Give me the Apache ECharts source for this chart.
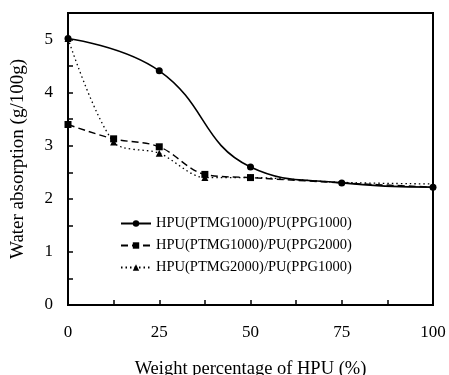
<!DOCTYPE html>
<html><head><meta charset="utf-8">
<script src="https://cdn.jsdelivr.net/npm/echarts@6/dist/echarts.min.js"></script>
<style>html,body{margin:0;padding:0;background:#fff}#c{width:449px;height:375px}</style>
</head><body><div id="c"></div>
<script>
const xValues = [0, 12.5, 25, 37.5, 50, 75, 100];
const seriesNames = ['HPU(PTMG1000)/PU(PPG1000)', 'HPU(PTMG1000)/PU(PPG2000)', 'HPU(PTMG2000)/PU(PPG1000)'];
const s1 = [5.02, null, 4.41, null, 2.60, 2.30, 2.22];
const s2 = [3.40, 3.13, 2.98, 2.46, 2.40, 2.30, 2.22];
const s3 = [5.02, 3.07, 2.86, 2.40, 2.40, 2.31, 2.28];
const xTickLabels = [0, 25, 50, 75, 100];
const yTickLabels = [0, 1, 2, 3, 4, 5];

const font = 'Liberation Serif';
function pts(arr, hideAfter) {
  const out = [];
  arr.forEach((v, i) => {
    if (v === null) return;
    const item = { value: [xValues[i], v] };
    if (hideAfter !== undefined && xValues[i] > hideAfter) item.symbol = 'none';
    out.push(item);
  });
  return out;
}
const chart = echarts.init(document.getElementById('c'));
chart.setOption({
  animation: false,
  backgroundColor: '#fff',
  grid: { left: 68, right: 16, top: 13, bottom: 70, outerBoundsMode: 'none', containLabel: false,
    show: true, borderColor: '#000', borderWidth: 2, backgroundColor: 'transparent' },
  legend: {
    orient: 'vertical', left: 120, top: 216, padding: 0, itemWidth: 30, itemHeight: 8, itemGap: 7,
    textStyle: { fontFamily: font, fontSize: 14.5, color: '#000' },
    data: seriesNames
  },
  xAxis: {
    type: 'value', min: 0, max: 100, interval: 12.5,
    name: 'Weight percentage of HPU (%)', nameLocation: 'middle', nameGap: 55,
    nameTextStyle: { fontFamily: font, fontSize: 18.5, color: '#000' },
    axisLine: { lineStyle: { color: '#000', width: 2 } },
    axisTick: { inside: true, length: 5, lineStyle: { color: '#000', width: 1.5 } },
    splitLine: { show: false },
    axisLabel: { margin: 19, fontFamily: font, fontSize: 17, color: '#000',
      formatter: v => xTickLabels.indexOf(v) >= 0 ? String(v) : '' }
  },
  yAxis: {
    type: 'value', min: 0, max: 5.5, interval: 0.5,
    name: 'Water absorption (g/100g)', nameLocation: 'middle', nameGap: 40,
    nameTextStyle: { fontFamily: font, fontSize: 19, color: '#000' },
    axisLine: { lineStyle: { color: '#000', width: 2 } },
    axisTick: { inside: true, length: 5, lineStyle: { color: '#000', width: 1.5 } },
    splitLine: { show: false },
    axisLabel: { margin: 15, fontFamily: font, fontSize: 17, color: '#000',
      formatter: v => yTickLabels.indexOf(v) >= 0 ? String(v) : '' }
  },
  series: [
    { name: seriesNames[0], type: 'line', smooth: 0.45, data: pts(s1), symbol: 'circle', symbolSize: 7,
      itemStyle: { color: '#000' }, lineStyle: { color: '#000', width: 1.6, type: 'solid' } },
    { name: seriesNames[1], type: 'line', smooth: 0.35, data: pts(s2, 50), symbol: 'rect', symbolSize: 7,
      itemStyle: { color: '#000' }, lineStyle: { color: '#000', width: 1.4, type: [7, 4] } },
    { name: seriesNames[2], type: 'line', smooth: 0.3, data: pts(s3, 50), symbol: 'triangle', symbolSize: 7,
      itemStyle: { color: '#000' }, lineStyle: { color: '#000', width: 1.3, type: [1.5, 3] } }
  ]
});
</script></body></html>
